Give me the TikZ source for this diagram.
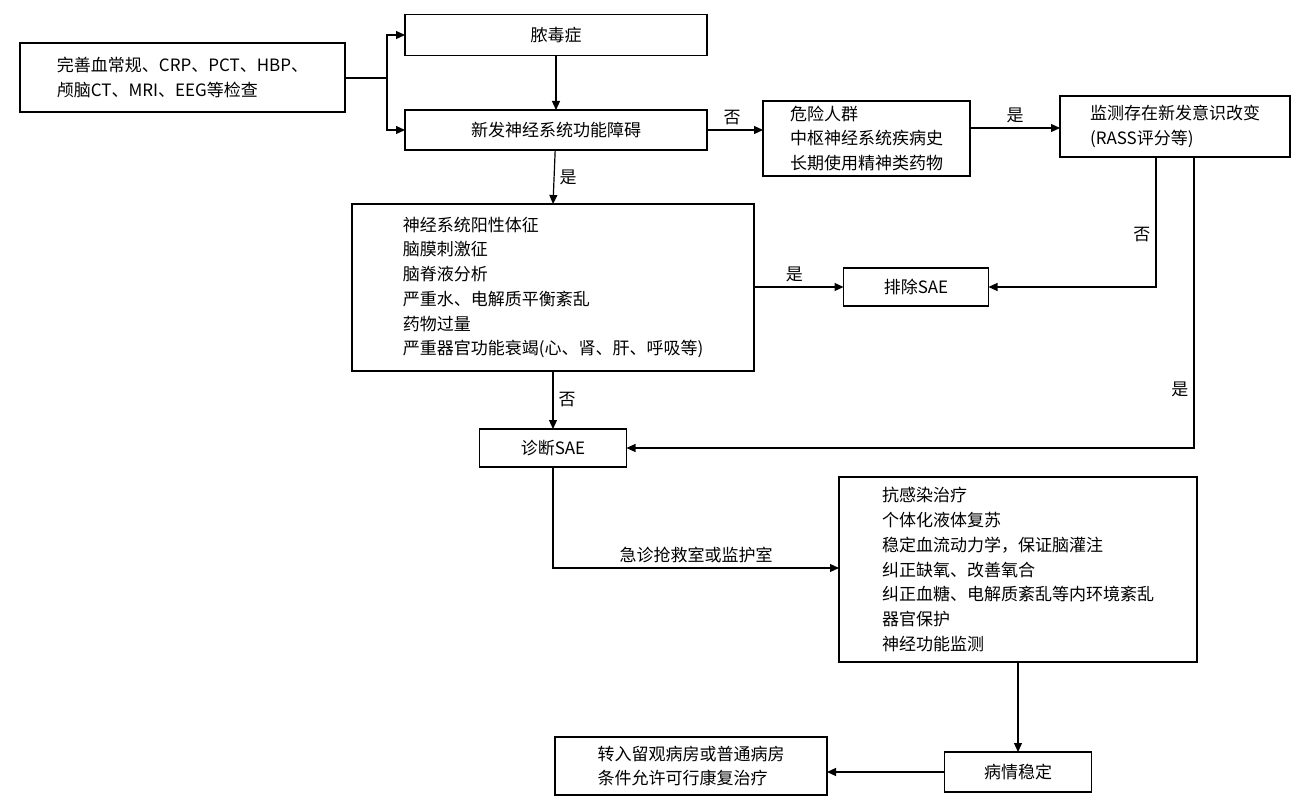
\documentclass[tikz,border=0pt]{standalone}
\usepackage{fontspec}
\setmainfont{Noto Sans CJK SC}
\usetikzlibrary{arrows.meta,positioning}

\begin{document}
\begin{tikzpicture}[x=1pt,y=-1pt,% pixel grid, y downwards
         > = {Triangle[length=9pt,width=8pt]},
box/.style = {draw, line width=1.2pt, inner sep=0pt, outer sep=0pt,
              font=\fontsize{17}{24.7}\selectfont},
lst/.style = {box, align=left, inner xsep=10pt, anchor=north west},
lab/.style = {font=\fontsize{17}{20}\selectfont, inner sep=1pt},
arr/.style = {->, line width=1.2pt}
                        ]
	\useasboundingbox (0,0) rectangle (1307,802);

	% top row
	\node[box, minimum width=325, minimum height=69, align=left, anchor=north west]
	     (tests) at (20,43) {完善血常规、CRP、PCT、HBP、\\颅脑CT、MRI、EEG等检查};
	\node[box, minimum width=302, minimum height=41] (sepsis) at (556,35) {脓毒症};
	\node[box, minimum width=302, minimum height=40] (newdys) at (556,130) {新发神经系统功能障碍};
	\node[lst, minimum width=207, minimum height=75] (risk) at (763,101)
	     {危险人群\\中枢神经系统疾病史\\长期使用精神类药物};
	\node[lst, minimum width=230, minimum height=61] (monitor) at (1060,96)
	     {监测存在新发意识改变\\(RASS评分等)};

	% middle
	\node[lst, minimum width=402, minimum height=167] (signs) at (352,204)
	     {神经系统阳性体征\\脑膜刺激征\\脑脊液分析\\严重水、电解质平衡紊乱\\药物过量\\严重器官功能衰竭(心、肾、肝、呼吸等)};
	\node[box, minimum width=145, minimum height=38] (exclude) at (916,287) {排除SAE};
	\node[box, minimum width=147, minimum height=38] (diag) at (553,448) {诊断SAE};

	% treatment
	\node[lst, minimum width=358, minimum height=185] (treat) at (839,477)
	     {抗感染治疗\\个体化液体复苏\\稳定血流动力学，保证脑灌注\\纠正缺氧、改善氧合\\纠正血糖、电解质紊乱等内环境紊乱\\器官保护\\神经功能监测};
	\node[box, minimum width=147, minimum height=40] (stable) at (1018,772) {病情稳定};
	\node[box, minimum width=272, minimum height=58, align=left] (ward) at (691,766)
	     {转入留观病房或普通病房\\条件允许可行康复治疗};

	% connectors
	\coordinate (split) at (387,78);
	\draw[line width=1.2pt] (tests.east |- split) -- (split);
	\draw[arr] (split) |- (sepsis.west);
	\draw[arr] (split) |- (newdys.west);
	\draw[arr] (sepsis) -- (newdys);
	\draw[arr] (newdys.east) -- (risk.west |- newdys.east)
	      node[lab, pos=0.45, above=4pt] {否};
	\draw[arr] (risk.east |- 0,128) -- (monitor.west |- 0,128)
	      node[lab, midway, above=4pt] {是};
	\draw[arr] (newdys) -- (signs.north)
	      node[lab, midway, right=4pt] {是};
	\draw[arr] (signs.east |- exclude) -- (exclude.west)
	      node[lab, pos=0.45, above=4pt] {是};
	\draw[arr] (monitor.south -| 1156,0) |- (exclude.east)
	      node[lab, pos=0.3, left=4pt] {否};
	\draw[arr] (monitor.south -| 1194,0) |- (diag.east)
	      node[lab, pos=0.4, left=4pt] {是};
	\draw[arr] (signs.south -| diag) -- (diag.north)
	      node[lab, midway, right=4pt] {否};
	\draw[arr] (diag.south) |- (treat.west |- 0,568)
	      node[lab, pos=0.75, above=4pt] {急诊抢救室或监护室};
	\draw[arr] (treat.south -| stable) -- (stable.north);
	\draw[arr] (stable.west) -- (ward.east |- stable.west);
\end{tikzpicture}
\end{document}
